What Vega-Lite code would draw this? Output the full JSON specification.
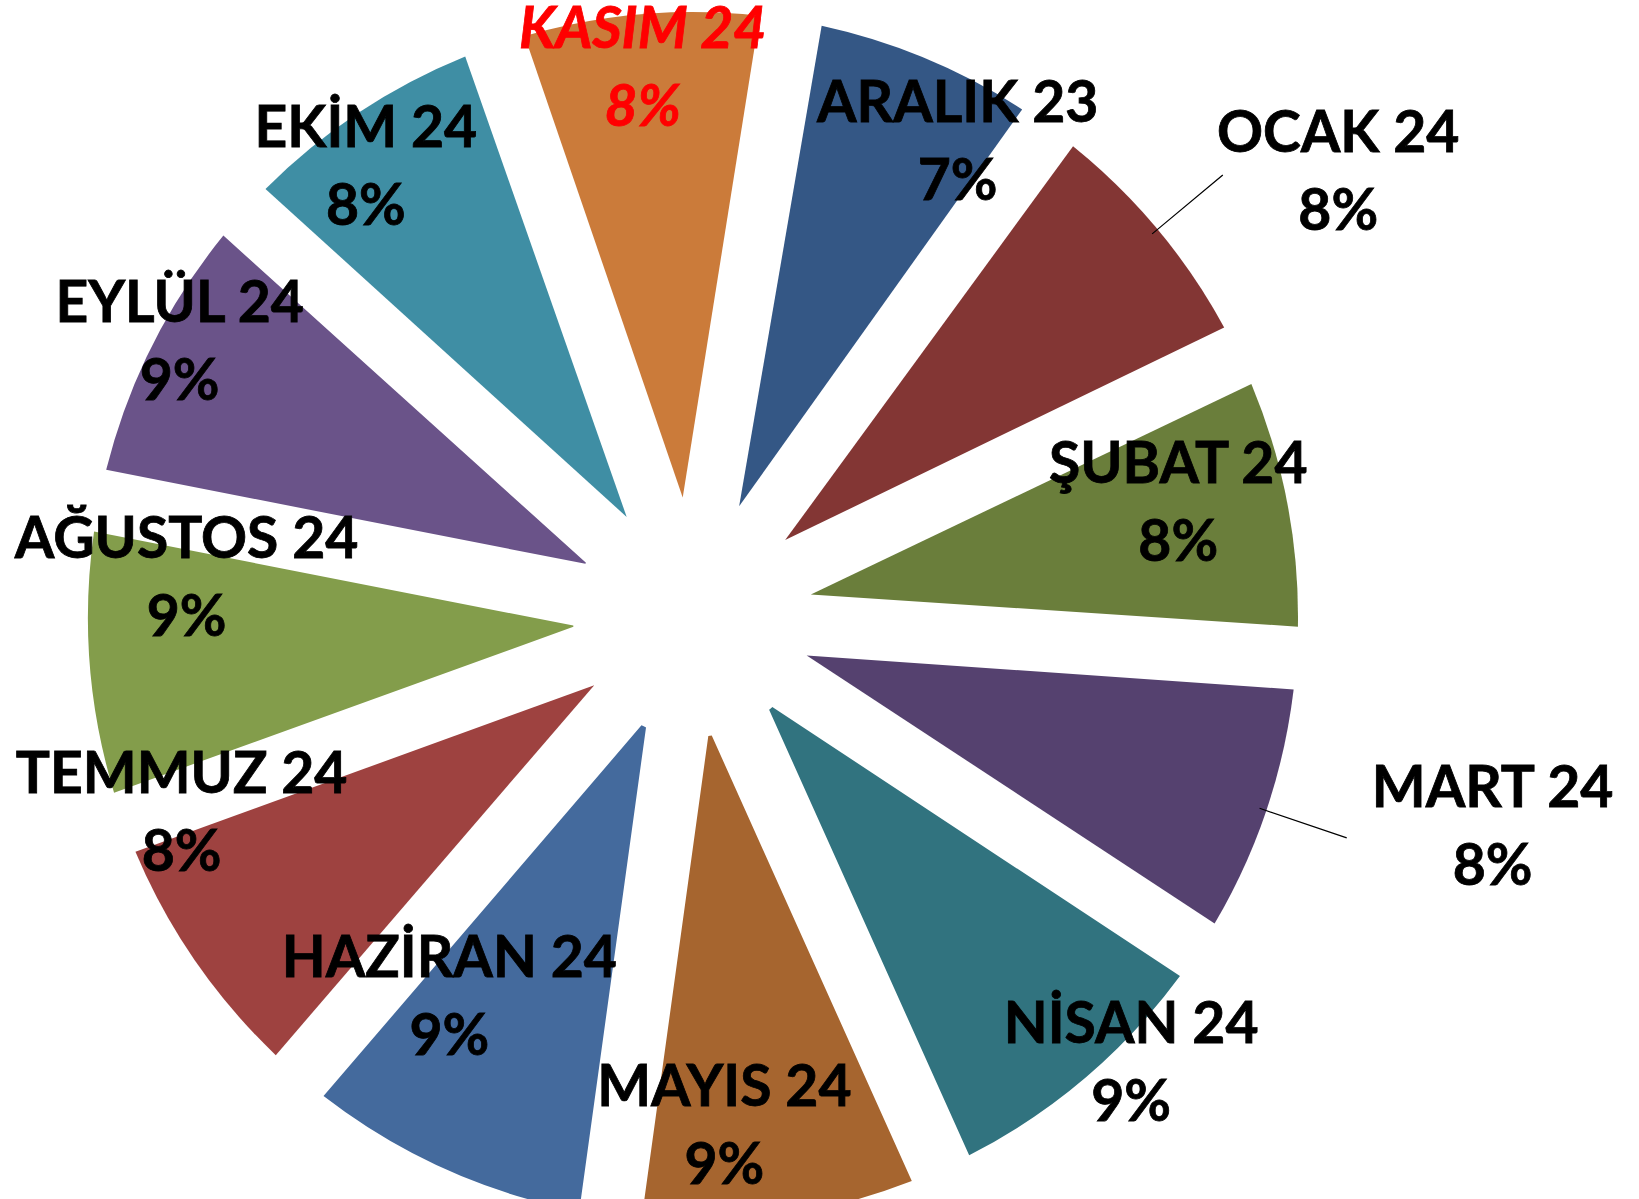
{
  "$schema": "https://vega.github.io/schema/vega-lite/v6.json",
  "width": 1386,
  "height": 1164,
  "autosize": {"type": "none"},
  "padding": {"left": 0, "top": 35, "right": 253, "bottom": 0},
  "background": "white",
  "config": {
    "view": {"stroke": null},
    "text": {"font": "Lato", "fontWeight": "bold", "fontSize": 57, "lineBreak": "\n", "lineHeight": 78, "align": "center", "baseline": "middle", "color": "#000000", "stroke": "#000000", "strokeWidth": 0.8}
  },
  "data": {
    "values": [
      {"idx": 1, "month": "ARALIK 23", "share": 7.4},
      {"idx": 2, "month": "OCAK 24", "share": 7.9},
      {"idx": 3, "month": "ŞUBAT 24", "share": 8.2},
      {"idx": 4, "month": "MART 24", "share": 8.2},
      {"idx": 5, "month": "NİSAN 24", "share": 9.0},
      {"idx": 6, "month": "MAYIS 24", "share": 8.9},
      {"idx": 7, "month": "HAZİRAN 24", "share": 9.1},
      {"idx": 8, "month": "TEMMUZ 24", "share": 8.2},
      {"idx": 9, "month": "AĞUSTOS 24", "share": 8.6},
      {"idx": 10, "month": "EYLÜL 24", "share": 8.6},
      {"idx": 11, "month": "EKİM 24", "share": 8.0},
      {"idx": 12, "month": "KASIM 24", "share": 7.9}
    ]
  },
  "transform": [
    {"stack": "share", "groupby": [], "sort": [{"field": "idx", "order": "ascending"}], "as": ["t0", "t1"]},
    {"calculate": "(datum.t0 + datum.t1) / 2", "as": "mid"},
    {"calculate": "datum.month + '\\n' + format(datum.share / 100, '.0%')", "as": "label"}
  ],
  "layer": [
    {
      "mark": {"type": "arc", "outerRadius": 605, "innerRadius": 120, "padAngle": 0.102},
      "encoding": {
        "theta": {"field": "t0", "type": "quantitative", "scale": {"domain": [0, 100], "range": [0.1623, 6.4455], "nice": false, "zero": false}},
        "theta2": {"field": "t1"},
        "color": {
          "field": "month", "type": "nominal", "legend": null,
          "scale": {
            "domain": ["ARALIK 23", "OCAK 24", "ŞUBAT 24", "MART 24", "NİSAN 24", "MAYIS 24", "HAZİRAN 24", "TEMMUZ 24", "AĞUSTOS 24", "EYLÜL 24", "EKİM 24", "KASIM 24"],
            "range": ["#345785", "#833634", "#6A7E3B", "#55416F", "#31737F", "#A6652F", "#446A9D", "#9E4240", "#839D4B", "#6A5389", "#3F8EA4", "#CB7B3A"]
          }
        }
      }
    },
    {
      "transform": [
        {"filter": "datum.month == 'OCAK 24' || datum.month == 'MART 24'"},
        {"calculate": "datum.mid - 0.015", "as": "l0"},
        {"calculate": "datum.mid + 0.015", "as": "l1"}
      ],
      "mark": {"type": "arc", "outerRadius": 690, "innerRadius": 598, "color": "#000000"},
      "encoding": {
        "theta": {"field": "l0", "type": "quantitative"},
        "theta2": {"field": "l1"}
      }
    },
    {
      "transform": [{"filter": "datum.month == 'ARALIK 23'"}],
      "mark": {"type": "text", "radius": 545, "dx": 55, "dy": -9},
      "encoding": {"theta": {"field": "mid", "type": "quantitative"}, "text": {"field": "label"}}
    },
    {
      "transform": [{"filter": "datum.month == 'OCAK 24'"}],
      "mark": {"type": "text", "radius": 783, "dx": 44, "dy": 20},
      "encoding": {"theta": {"field": "mid", "type": "quantitative"}, "text": {"field": "label"}}
    },
    {
      "transform": [{"filter": "datum.month == 'ŞUBAT 24'"}],
      "mark": {"type": "text", "radius": 545, "dx": -50, "dy": -48},
      "encoding": {"theta": {"field": "mid", "type": "quantitative"}, "text": {"field": "label"}}
    },
    {
      "transform": [{"filter": "datum.month == 'MART 24'"}],
      "mark": {"type": "text", "radius": 827, "dx": 16, "dy": -92},
      "encoding": {"theta": {"field": "mid", "type": "quantitative"}, "text": {"field": "label"}}
    },
    {
      "transform": [{"filter": "datum.month == 'NİSAN 24'"}],
      "mark": {"type": "text", "radius": 545, "dx": 85, "dy": -6},
      "encoding": {"theta": {"field": "mid", "type": "quantitative"}, "text": {"field": "label"}}
    },
    {
      "transform": [{"filter": "datum.month == 'MAYIS 24'"}],
      "mark": {"type": "text", "radius": 545, "dx": -46, "dy": -67},
      "encoding": {"theta": {"field": "mid", "type": "quantitative"}, "text": {"field": "label"}}
    },
    {
      "transform": [{"filter": "datum.month == 'HAZİRAN 24'"}],
      "mark": {"type": "text", "radius": 540, "dx": -22, "dy": -149},
      "encoding": {"theta": {"field": "mid", "type": "quantitative"}, "text": {"field": "label"}}
    },
    {
      "transform": [{"filter": "datum.month == 'TEMMUZ 24'"}],
      "mark": {"type": "text", "radius": 540, "dx": -67, "dy": -148},
      "encoding": {"theta": {"field": "mid", "type": "quantitative"}, "text": {"field": "label"}}
    },
    {
      "transform": [{"filter": "datum.month == 'AĞUSTOS 24'"}],
      "mark": {"type": "text", "radius": 540, "dx": 32, "dy": -117},
      "encoding": {"theta": {"field": "mid", "type": "quantitative"}, "text": {"field": "label"}}
    },
    {
      "transform": [{"filter": "datum.month == 'EYLÜL 24'"}],
      "mark": {"type": "text", "radius": 545, "dx": -26, "dy": -68},
      "encoding": {"theta": {"field": "mid", "type": "quantitative"}, "text": {"field": "label"}}
    },
    {
      "transform": [{"filter": "datum.month == 'EKİM 24'"}],
      "mark": {"type": "text", "radius": 545, "dx": -26, "dy": -33},
      "encoding": {"theta": {"field": "mid", "type": "quantitative"}, "text": {"field": "label"}}
    },
    {
      "transform": [{"filter": "datum.month == 'KASIM 24'"}],
      "mark": {"type": "text", "radius": 552, "dx": -3, "dy": -36, "fontStyle": "italic", "color": "#FF0000", "stroke": "#FF0000"},
      "encoding": {"theta": {"field": "mid", "type": "quantitative"}, "text": {"field": "label"}}
    }
  ]
}
